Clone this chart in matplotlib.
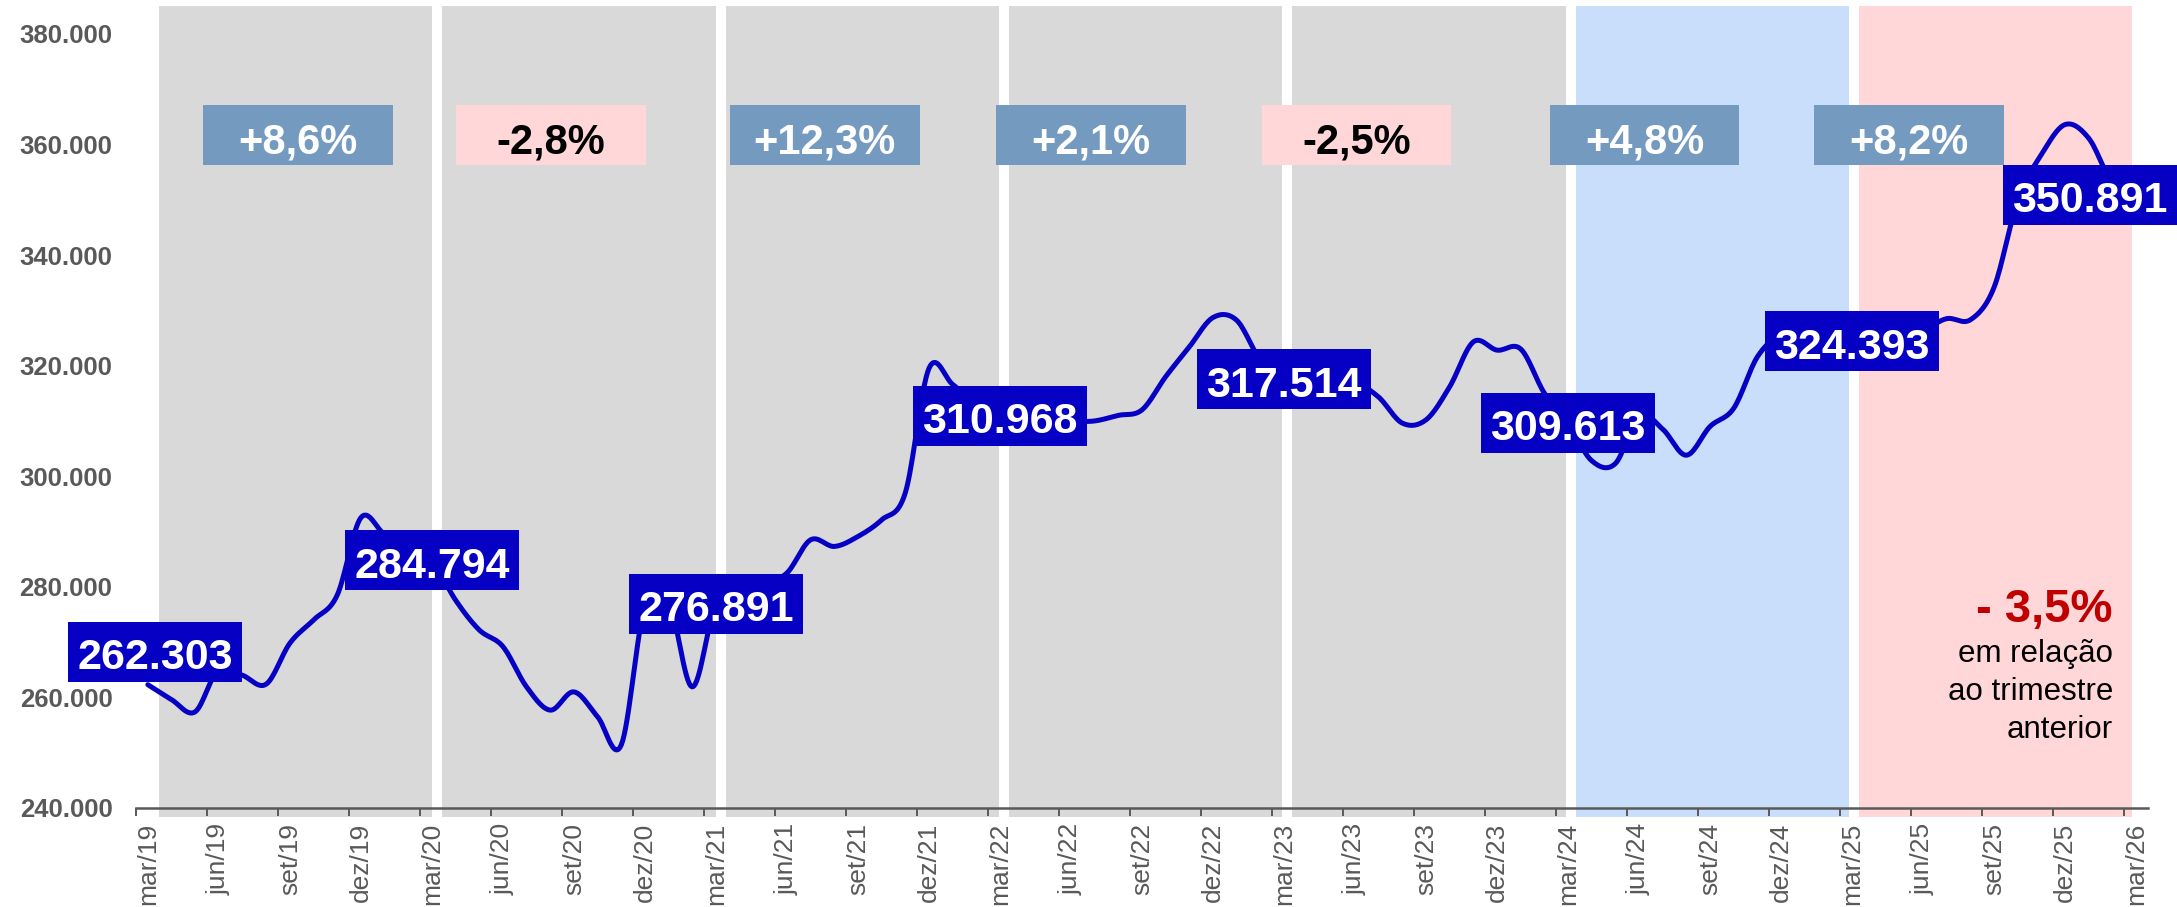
import numpy as np
import matplotlib
matplotlib.use("Agg")
import matplotlib.pyplot as plt
from matplotlib.patches import Rectangle
from matplotlib.ticker import FuncFormatter

plt.rcParams['font.family'] = ['Liberation Sans', 'DejaVu Sans']

# monthly values, mar/19 .. mar/26
values = [
    262303, 259600, 257400, 265300, 264000, 262400, 269800, 274000, 278500, 292500, 289500, 287500,
    284794, 277600, 272200, 269200, 261900, 257700, 261000, 256500, 251400, 276500, 277500, 261900,
    276891, 278500, 280500, 282500, 288500, 287300, 289100, 292100, 297000, 319500, 316600, 313000,
    310968, 309600, 309700, 309900, 310000, 311000, 312000, 318000, 323400, 328700, 328200, 321000,
    317514, 317500, 317500, 317000, 314300, 309600, 310200, 316200, 324300, 322800, 323000, 315000,
    309613, 302800, 302300, 311000, 308500, 303800, 309000, 312300, 321600, 325500, 325000, 324500,
    324393, 325000, 326000, 326500, 328500, 328300, 334200, 350000, 358200, 363600, 361100, 353000,
    350891,
]
quarters = ['mar', 'jun', 'set', 'dez']
years = ['19', '20', '21', '22', '23', '24', '25', '26']
tick_labels = [f"{q}/{y}" for y in years for q in quarters][:29]

label_idx = [0, 12, 24, 36, 48, 60, 72, 84]
pct_labels = ['+8,6%', '-2,8%', '+12,3%', '+2,1%', '-2,5%', '+4,8%', '+8,2%']
band_colors = ['#D9D9D9'] * 5 + ['#C9DEFB', '#FFD7D8']

LINE = '#0600C4'
GRAY = '#595959'


def fmt(v):
    return f"{v:,.0f}".replace(",", ".")


def smooth_line(x, y, steps=16):
    # bezier smoothing like the spreadsheet "smoothed line" option
    t = np.linspace(0, 1, steps, endpoint=False)[:, None]
    out = []
    for arr in (x, y):
        a = np.asarray(arr, float)
        p = np.concatenate([[a[0]], a, [a[-1]]])
        p0, p1, p2, p3 = p[:-3], p[1:-2], p[2:-1], p[3:]
        c1 = p1 + (p2 - p0) / 6
        c2 = p2 - (p3 - p1) / 6
        seg = ((1 - t) ** 3 * p1 + 3 * (1 - t) ** 2 * t * c1
               + 3 * (1 - t) * t ** 2 * c2 + t ** 3 * p2)
        out.append(np.append(seg.T.ravel(), a[-1]))
    return out


fig = plt.figure(figsize=(21.77, 9.07), dpi=100)
ax = fig.add_axes([136 / 2177, 99 / 907, 2012 / 2177, 801.8 / 907])
ax.set_xlim(0, 85)
ax.set_ylim(240000, 385000)

# yearly bands
for k, c in enumerate(band_colors):
    left = 0.97 + 11.97 * k
    span = ax.axvspan(left, left + 11.55, ymin=-9 / 801.8, ymax=1,
                      color=c, lw=0, zorder=0)
    span.set_clip_on(False)

x = np.arange(len(values)) + 0.5
sx, sy = smooth_line(x, values)
ax.plot(sx, sy, color=LINE, lw=3.6, solid_capstyle='round', zorder=3)

# value labels
lw_box, lh_box = 7.35, 10850
for n, i in enumerate(label_idx):
    cx, cy = x[i], values[i]
    if n == 0:
        cx, cy = 0.8, 268200
    elif n == len(label_idx) - 1:
        cx = 82.56
    ax.add_patch(Rectangle((cx - lw_box / 2, cy - lh_box / 2), lw_box, lh_box,
                           fc=LINE, ec='none', zorder=4, clip_on=False))
    ax.annotate(fmt(values[i]), (cx, cy), xytext=(0, -12.5), textcoords='offset points',
                ha='center', va='baseline', fontsize=31, fontweight='bold',
                color='white', zorder=5, annotation_clip=False)

# yearly change boxes
pct_x = [6.84, 17.53, 29.1, 40.33, 51.56, 63.73, 74.9]
pw, ph, py = 8.02, 10850, 361700
for cx, txt in zip(pct_x, pct_labels):
    neg = txt.startswith('-')
    ax.add_patch(Rectangle((cx - pw / 2, py - ph / 2), pw, ph,
                           fc='#FFD7D9' if neg else '#749ABF', ec='none', zorder=4))
    ax.annotate(txt, (cx, py), xytext=(0, -13), textcoords='offset points',
                ha='center', va='baseline', fontsize=30, fontweight='bold',
                color='black' if neg else 'white', zorder=5)

# axes styling
for s in ['top', 'right', 'left']:
    ax.spines[s].set_visible(False)
ax.spines['bottom'].set_color(GRAY)
ax.spines['bottom'].set_linewidth(1.8)

ticks = np.arange(0, 85, 3)
ax.set_xticks(ticks)
ax.set_xticklabels([])
ax.set_xticks(ticks + 0.5, minor=True)
ax.set_xticklabels(tick_labels, minor=True, rotation=90)
ax.tick_params(axis='x', which='major', length=6, width=1.4, color=GRAY)
ax.tick_params(axis='x', which='minor', length=0, pad=10.5, labelsize=19, labelcolor=GRAY)

ax.set_yticks(range(240000, 380001, 20000))
ax.yaxis.set_major_formatter(FuncFormatter(lambda v, p: fmt(v)))
ax.tick_params(axis='y', length=0, pad=17, labelsize=18.5, labelcolor=GRAY)
for lbl in ax.get_yticklabels():
    lbl.set_fontweight('bold')

# quarter note
fig.text(2113 / 2177, 1 - 622 / 907, '- 3,5%', ha='right', va='baseline',
         fontsize=34, fontweight='bold', color='#C00000')
for txt, yb in zip(['em relação', 'ao trimestre', 'anterior'], [662, 700, 738]):
    fig.text(2113 / 2177, 1 - yb / 907, txt, ha='right', va='baseline',
             fontsize=22.5, color='black')

fig.savefig('out.png', dpi=100)
plt.close(fig)
